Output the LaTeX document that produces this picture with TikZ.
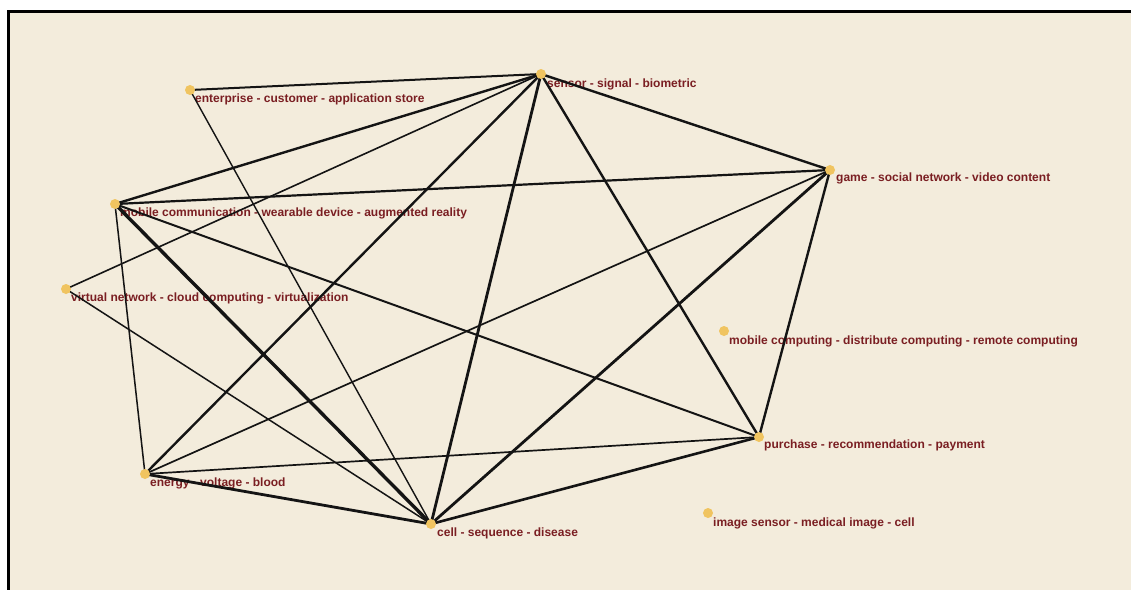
\documentclass[tikz,border=0pt]{standalone}
\usepackage{fontspec}
\setmainfont{Liberation Sans}
\definecolor{paper}{RGB}{243,236,220}
\definecolor{dotfill}{RGB}{240,196,96}
\definecolor{labelred}{RGB}{122,30,34}
\definecolor{edgeink}{RGB}{20,20,20}
\tikzset{
  topic/.style={circle, fill=dotfill, inner sep=0pt, minimum size=10pt},
  topiclabel/.style={anchor=west, inner sep=0pt, text=labelred,
                     font=\bfseries\fontsize{12pt}{12pt}\selectfont},
  link/.style={draw=edgeink, line width=#1pt, line cap=round},
  link/.default=1.5
}
\begin{document}
\begin{tikzpicture}[x=1pt,y=-1pt]
\useasboundingbox (0,0) rectangle (1131,590);
% frame and canvas
\fill[white] (0,0) rectangle (1131,590);
\fill[black] (7,10) rectangle (1131,13);
\fill[black] (7,10) rectangle (10,590);
\fill[paper] (10,13) rectangle (1131,590);

% topic positions
\coordinate (ent) at (190,90);
\coordinate (sen) at (541,74);
\coordinate (gam) at (830,170);
\coordinate (mob) at (115,204);
\coordinate (vir) at (66,289);
\coordinate (mcp) at (724,331);
\coordinate (pur) at (759,437);
\coordinate (ene) at (145,474);
\coordinate (cel) at (431,524);
\coordinate (ims) at (708,513);

% labels
\node[topiclabel] (entL) at (195,99) {enterprise - customer - application store};
\node[topiclabel] (senL) at (547,84) {sensor - signal - biometric};
\node[topiclabel] (gamL) at (836,178) {game - social network - video content};
\node[topiclabel] (mobL) at (120,213) {mobile communication - wearable device - augmented reality};
\node[topiclabel] (virL) at (71,298) {virtual network - cloud computing - virtualization};
\node[topiclabel] (mcpL) at (729,341) {mobile computing - distribute computing - remote computing};
\node[topiclabel] (purL) at (764,445) {purchase - recommendation - payment};
\node[topiclabel] (eneL) at (150,483) {energy - voltage - blood};
\node[topiclabel] (celL) at (437,533) {cell - sequence - disease};
\node[topiclabel] (imsL) at (713,523) {image sensor - medical image - cell};

% co-occurrence links
\draw[link=2.0] (ent) -- (sen);
\draw[link=1.4] (ent) -- (cel);
\draw[link=2.4] (sen) -- (mob);
\draw[link=1.6] (sen) -- (vir);
\draw[link=2.4] (sen) -- (ene);
\draw[link=2.8] (sen) -- (cel);
\draw[link=2.4] (sen) -- (pur);
\draw[link=2.4] (sen) -- (gam);
\draw[link=2.2] (gam) -- (mob);
\draw[link=1.7] (gam) -- (ene);
\draw[link=2.8] (gam) -- (cel);
\draw[link=2.4] (gam) -- (pur);
\draw[link=3.4] (mob) -- (cel);
\draw[link=2.0] (mob) -- (pur);
\draw[link=1.5] (mob) -- (ene);
\draw[link=1.5] (vir) -- (cel);
\draw[link=2.8] (ene) -- (cel);
\draw[link=1.7] (ene) -- (pur);
\draw[link=2.6] (cel) -- (pur);

% topic dots
\foreach \p in {ent,sen,gam,mob,vir,mcp,pur,ene,cel,ims}
  \node[topic] (\p D) at (\p) {};
\end{tikzpicture}
\end{document}
